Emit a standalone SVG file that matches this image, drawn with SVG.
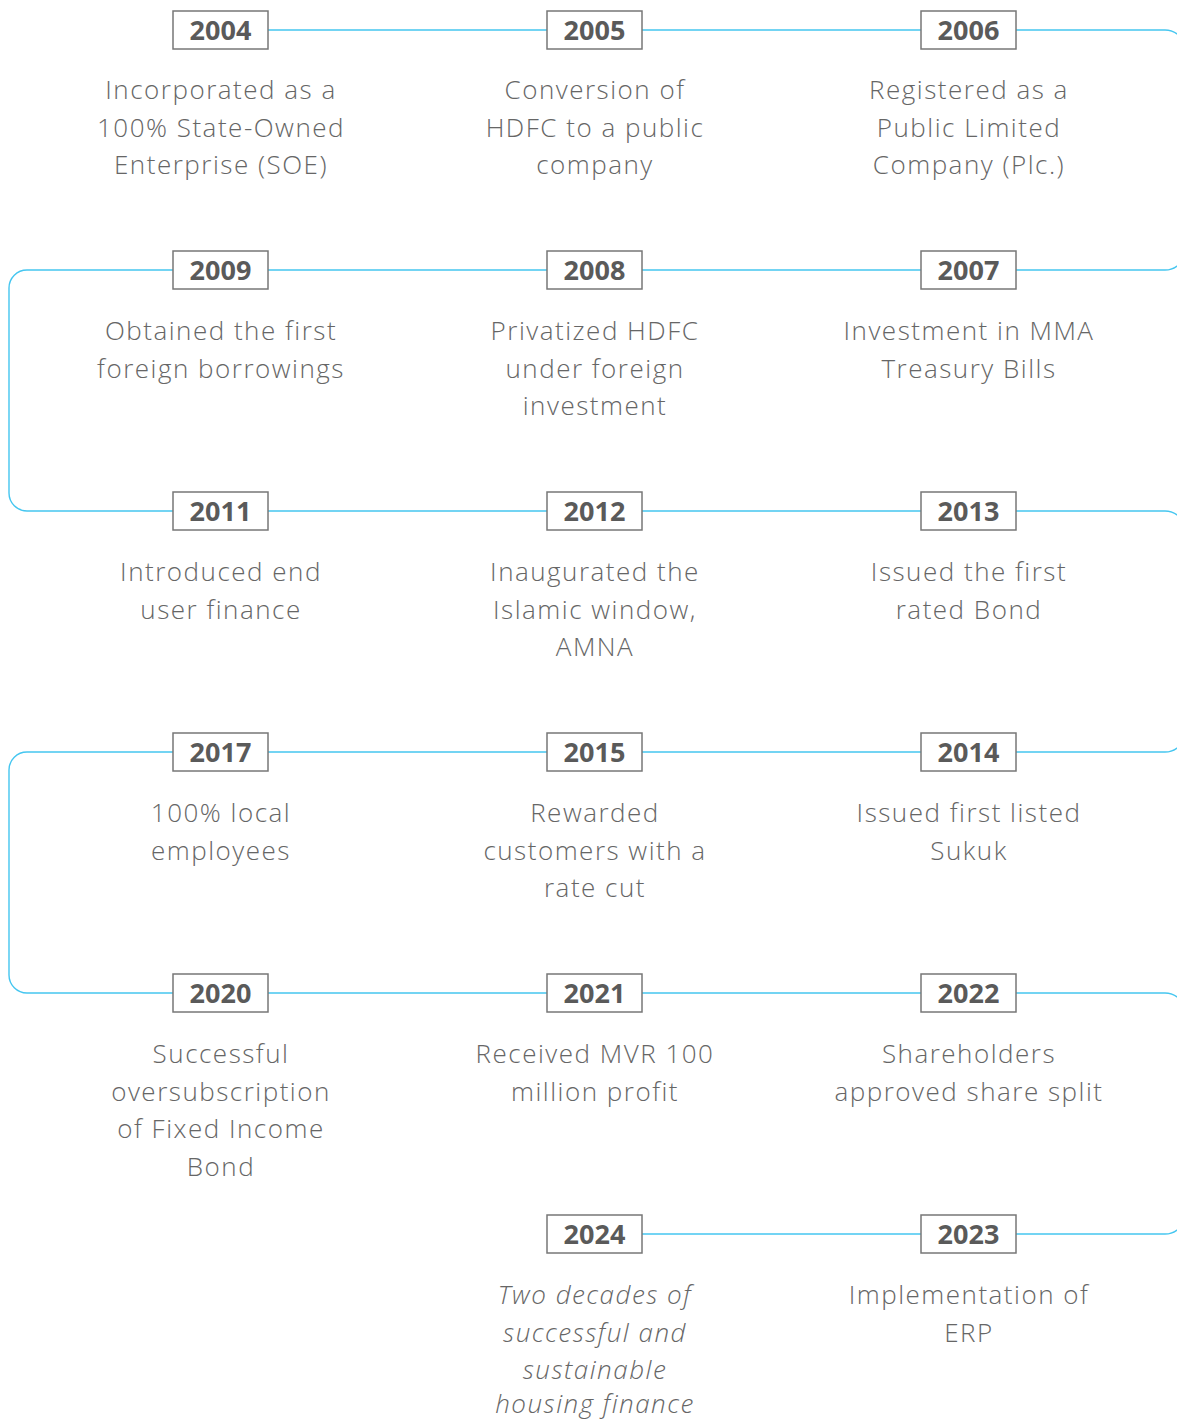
<svg xmlns="http://www.w3.org/2000/svg" width="1177" height="1420" viewBox="0 0 1177 1420">
<style>
.bg{fill:#ffffff}
.box{fill:#ffffff;stroke:#777777;stroke-width:1.5}
.yr{font-family:"Open Sans","Liberation Sans",sans-serif;font-weight:700;font-size:27px;fill:#5a5a5a;text-anchor:middle}
.d{font-family:"Open Sans","Liberation Sans",sans-serif;font-weight:300;font-size:26px;letter-spacing:1.5px;fill:#666666;text-anchor:middle}
.it{font-style:italic}
.ln{fill:none;stroke:#45c6f0;stroke-width:1.4}
</style>
<rect class="bg" x="0" y="0" width="1177" height="1420"/>
<g id="connectors">
<path class="ln" d="M268,30 H547 M642,30 H921 M1016,30 H1165 A20,20 0 0 1 1185,50 V250 A20,20 0 0 1 1165,270 H1016"/>
<path class="ln" d="M642,270 H921 M268,270 H547 M173,270 H27 A18,18 0 0 0 9,288 V493 A18,18 0 0 0 27,511 H173"/>
<path class="ln" d="M268,511 H547 M642,511 H921 M1016,511 H1165 A20,20 0 0 1 1185,531 V732 A20,20 0 0 1 1165,752 H1016"/>
<path class="ln" d="M642,752 H921 M268,752 H547 M173,752 H27 A18,18 0 0 0 9,770 V975 A18,18 0 0 0 27,993 H173"/>
<path class="ln" d="M268,993 H547 M642,993 H921 M1016,993 H1165 A20,20 0 0 1 1185,1013 V1214 A20,20 0 0 1 1165,1234 H1016"/>
<path class="ln" d="M642,1234 H921"/>
</g>
<g id="n2004"><rect class="box" x="173" y="11" width="95" height="38"/><text class="yr" x="220.5" y="40">2004</text>
<text class="d" x="221" y="99">Incorporated as a</text><text class="d" x="221" y="136.5">100% State-Owned</text><text class="d" x="221" y="174">Enterprise (SOE)</text></g>
<g id="n2005"><rect class="box" x="547" y="11" width="95" height="38"/><text class="yr" x="594.5" y="40">2005</text>
<text class="d" x="595" y="99">Conversion of</text><text class="d" x="595" y="136.5">HDFC to a public</text><text class="d" x="595" y="174">company</text></g>
<g id="n2006"><rect class="box" x="921" y="11" width="95" height="38"/><text class="yr" x="968.5" y="40">2006</text>
<text class="d" x="969" y="99">Registered as a</text><text class="d" x="969" y="136.5">Public Limited</text><text class="d" x="969" y="174">Company (Plc.)</text></g>

<g id="n2009"><rect class="box" x="173" y="251" width="95" height="38"/><text class="yr" x="220.5" y="280">2009</text>
<text class="d" x="221" y="340">Obtained the first</text><text class="d" x="221" y="377.5">foreign borrowings</text></g>
<g id="n2008"><rect class="box" x="547" y="251" width="95" height="38"/><text class="yr" x="594.5" y="280">2008</text>
<text class="d" x="595" y="340">Privatized HDFC</text><text class="d" x="595" y="377.5">under foreign</text><text class="d" x="595" y="415">investment</text></g>
<g id="n2007"><rect class="box" x="921" y="251" width="95" height="38"/><text class="yr" x="968.5" y="280">2007</text>
<text class="d" x="969" y="340">Investment in MMA</text><text class="d" x="969" y="377.5">Treasury Bills</text></g>

<g id="n2011"><rect class="box" x="173" y="492" width="95" height="38"/><text class="yr" x="220.5" y="521">2011</text>
<text class="d" x="221" y="581">Introduced end</text><text class="d" x="221" y="618.5">user finance</text></g>
<g id="n2012"><rect class="box" x="547" y="492" width="95" height="38"/><text class="yr" x="594.5" y="521">2012</text>
<text class="d" x="595" y="581">Inaugurated the</text><text class="d" x="595" y="618.5">Islamic window,</text><text class="d" x="595" y="656">AMNA</text></g>
<g id="n2013"><rect class="box" x="921" y="492" width="95" height="38"/><text class="yr" x="968.5" y="521">2013</text>
<text class="d" x="969" y="581">Issued the first</text><text class="d" x="969" y="618.5">rated Bond</text></g>

<g id="n2017"><rect class="box" x="173" y="733" width="95" height="38"/><text class="yr" x="220.5" y="762">2017</text>
<text class="d" x="221" y="822">100% local</text><text class="d" x="221" y="859.5">employees</text></g>
<g id="n2015"><rect class="box" x="547" y="733" width="95" height="38"/><text class="yr" x="594.5" y="762">2015</text>
<text class="d" x="595" y="822">Rewarded</text><text class="d" x="595" y="859.5">customers with a</text><text class="d" x="595" y="897">rate cut</text></g>
<g id="n2014"><rect class="box" x="921" y="733" width="95" height="38"/><text class="yr" x="968.5" y="762">2014</text>
<text class="d" x="969" y="822">Issued first listed</text><text class="d" x="969" y="859.5">Sukuk</text></g>

<g id="n2020"><rect class="box" x="173" y="974" width="95" height="38"/><text class="yr" x="220.5" y="1003">2020</text>
<text class="d" x="221" y="1063">Successful</text><text class="d" x="221" y="1100.5">oversubscription</text><text class="d" x="221" y="1138">of Fixed Income</text><text class="d" x="221" y="1175.5">Bond</text></g>
<g id="n2021"><rect class="box" x="547" y="974" width="95" height="38"/><text class="yr" x="594.5" y="1003">2021</text>
<text class="d" x="595" y="1063">Received MVR 100</text><text class="d" x="595" y="1100.5">million profit</text></g>
<g id="n2022"><rect class="box" x="921" y="974" width="95" height="38"/><text class="yr" x="968.5" y="1003">2022</text>
<text class="d" x="969" y="1063">Shareholders</text><text class="d" x="969" y="1100.5">approved share split</text></g>

<g id="n2024"><rect class="box" x="547" y="1215" width="95" height="38"/><text class="yr" x="594.5" y="1244">2024</text>
<text class="d it" x="595" y="1304">Two decades of</text><text class="d it" x="595" y="1341.5">successful and</text><text class="d it" x="595" y="1379">sustainable</text><text class="d it" x="595" y="1413">housing finance</text></g>
<g id="n2023"><rect class="box" x="921" y="1215" width="95" height="38"/><text class="yr" x="968.5" y="1244">2023</text>
<text class="d" x="969" y="1304">Implementation of</text><text class="d" x="969" y="1341.5">ERP</text></g>
</svg>
